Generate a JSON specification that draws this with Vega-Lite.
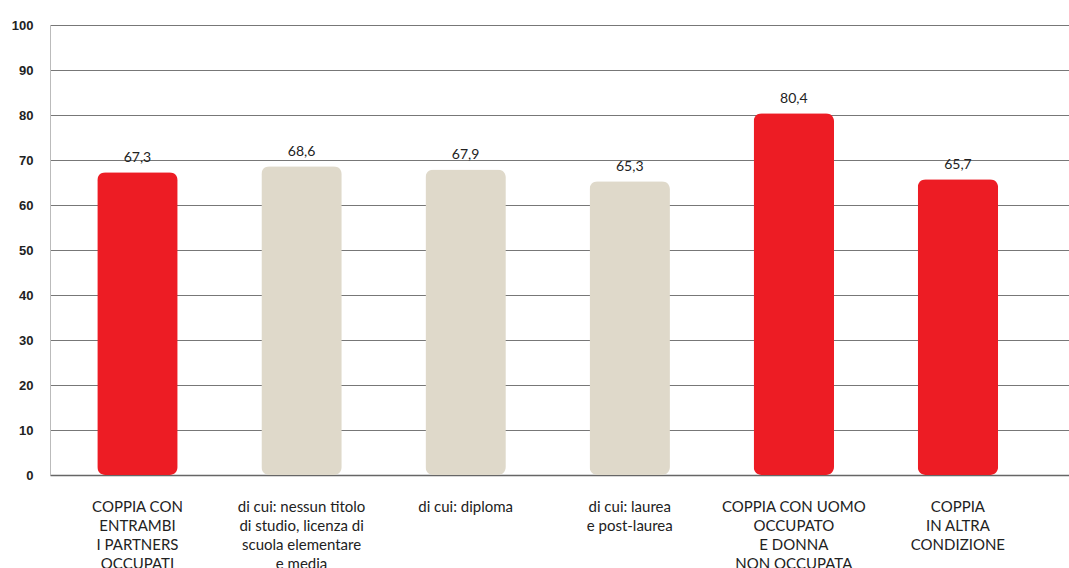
{
  "$schema": "https://vega.github.io/schema/vega-lite/v6.json",
  "width": 1019,
  "height": 450,
  "autosize": {"type": "none"},
  "padding": {"left": 50, "top": 25, "right": 0, "bottom": 93},
  "background": "white",
  "config": {"view": {"stroke": null}},
  "data": {
    "values": [
      {"cat": "COPPIA CON|ENTRAMBI|I PARTNERS|OCCUPATI", "value": 67.3, "label": "67,3", "group": "main"},
      {"cat": "di cui: nessun titolo|di studio, licenza di|scuola elementare|e media", "value": 68.6, "label": "68,6", "group": "sub"},
      {"cat": "di cui: diploma", "value": 67.9, "label": "67,9", "group": "sub"},
      {"cat": "di cui: laurea|e post-laurea", "value": 65.3, "label": "65,3", "group": "sub"},
      {"cat": "COPPIA CON UOMO|OCCUPATO|E DONNA|NON OCCUPATA", "value": 80.4, "label": "80,4", "group": "main"},
      {"cat": "COPPIA|IN ALTRA|CONDIZIONE", "value": 65.7, "label": "65,7", "group": "main"}
    ]
  },
  "encoding": {
    "x": {
      "field": "cat",
      "type": "nominal",
      "sort": null,
      "scale": {"paddingInner": 0.51, "paddingOuter": 0.36, "align": 0.4},
      "axis": {
        "title": null,
        "labelAngle": 0,
        "labelExpr": "split(datum.label, '|')",
        "labelFont": "Lato",
        "labelFontSize": 15,
        "labelColor": "#222222",
        "labelPadding": 24,
        "labelLineHeight": 19,
        "labelBaseline": "top",
        "ticks": false,
        "domainColor": "#666666",
        "domainWidth": 1.5,
        "labelLimit": 0
      }
    },
    "y": {
      "field": "value",
      "type": "quantitative",
      "scale": {"domain": [0, 100], "nice": false},
      "axis": {
        "title": null,
        "values": [0, 10, 20, 30, 40, 50, 60, 70, 80, 90, 100],
        "labelFont": "Liberation Sans",
        "labelFontWeight": "bold",
        "labelFontSize": 13,
        "labelColor": "#222222",
        "labelPadding": 17,
        "ticks": false,
        "domainColor": "#bbbbbb",
        "grid": true,
        "gridColor": "#777777",
        "gridWidth": 1
      }
    }
  },
  "layer": [
    {
      "mark": {"type": "bar", "cornerRadius": 8},
      "encoding": {
        "color": {
          "field": "group",
          "type": "nominal",
          "scale": {"domain": ["main", "sub"], "range": ["#ED1C24", "#DFD9CA"]},
          "legend": null
        }
      }
    },
    {
      "mark": {"type": "text", "dy": -7, "font": "Lato", "fontSize": 14, "color": "#222222", "baseline": "bottom"},
      "encoding": {"text": {"field": "label"}}
    }
  ]
}
